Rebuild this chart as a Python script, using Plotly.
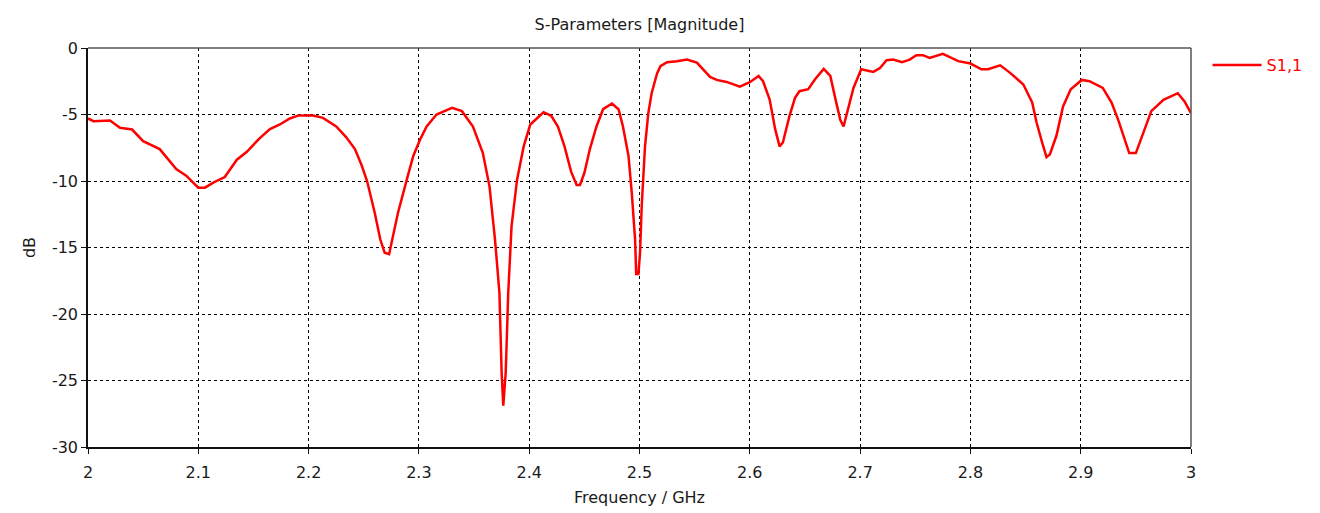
import plotly.graph_objects as go

freq_ghz = [
    2.000, 2.005, 2.020, 2.029, 2.040, 2.050, 2.065, 2.074, 2.080, 2.089,
    2.100, 2.106, 2.114, 2.124, 2.135, 2.144, 2.156, 2.165, 2.174, 2.183,
    2.191, 2.204, 2.213, 2.225, 2.234, 2.242, 2.248, 2.253, 2.260, 2.265,
    2.269, 2.273, 2.281, 2.290, 2.295, 2.301, 2.307, 2.316, 2.330, 2.339,
    2.349, 2.358, 2.364, 2.369, 2.373, 2.375, 2.3765, 2.3787, 2.381, 2.384,
    2.389, 2.395, 2.401, 2.413, 2.420, 2.426, 2.432, 2.438, 2.443, 2.446,
    2.450, 2.455, 2.461, 2.467, 2.475, 2.481, 2.485, 2.490, 2.493, 2.496,
    2.497, 2.499, 2.5005, 2.502, 2.505, 2.508, 2.511, 2.516, 2.519, 2.525,
    2.534, 2.543, 2.552, 2.564, 2.570, 2.579, 2.591, 2.600, 2.608, 2.612,
    2.618, 2.623, 2.627, 2.630, 2.636, 2.641, 2.645, 2.653, 2.659, 2.667,
    2.673, 2.677, 2.682, 2.685, 2.688, 2.694, 2.701, 2.706, 2.712, 2.718,
    2.724, 2.730, 2.738, 2.745, 2.751, 2.757, 2.763, 2.775, 2.789, 2.800,
    2.810, 2.816, 2.827, 2.836, 2.848, 2.856, 2.860, 2.865, 2.869, 2.872,
    2.878, 2.884, 2.891, 2.901, 2.908, 2.920, 2.928, 2.934, 2.940, 2.944,
    2.950, 2.957, 2.964, 2.975, 2.988, 2.994, 3.000,
]

s11_db = [
    -5.3, -5.5, -5.45, -6.0, -6.13, -7.0, -7.6, -8.5, -9.1, -9.6,
    -10.5, -10.5, -10.1, -9.7, -8.4, -7.8, -6.75, -6.1, -5.75, -5.3,
    -5.07, -5.07, -5.25, -5.9, -6.7, -7.6, -8.8, -10.0, -12.4, -14.4,
    -15.4, -15.5, -12.4, -9.6, -8.1, -6.9, -5.9, -5.0, -4.5, -4.75,
    -5.9, -7.9, -10.4, -14.4, -18.4, -24.4, -26.9, -24.4, -18.4, -13.4,
    -9.9, -7.4, -5.75, -4.83, -5.1, -5.9, -7.4, -9.3, -10.3, -10.3,
    -9.4, -7.6, -5.9, -4.6, -4.17, -4.6, -5.9, -8.1, -10.9, -14.4,
    -17.0, -17.0, -15.4, -11.9, -7.4, -4.9, -3.4, -1.9, -1.37, -1.07,
    -1.0, -0.87, -1.1, -2.17, -2.4, -2.55, -2.9, -2.57, -2.1, -2.5,
    -3.87, -6.1, -7.4, -7.1, -5.1, -3.75, -3.25, -3.1, -2.37, -1.57,
    -2.1, -3.6, -5.4, -5.9, -5.0, -3.0, -1.6, -1.67, -1.8, -1.5,
    -0.92, -0.87, -1.07, -0.87, -0.54, -0.54, -0.74, -0.44, -0.99, -1.17,
    -1.6, -1.6, -1.3, -1.87, -2.74, -4.1, -5.6, -7.1, -8.2, -8.0,
    -6.6, -4.4, -3.1, -2.4, -2.5, -3.0, -4.1, -5.4, -7.0, -7.9,
    -7.9, -6.4, -4.75, -3.9, -3.4, -4.0, -4.9,
]

x_ticks = [2, 2.1, 2.2, 2.3, 2.4, 2.5, 2.6, 2.7, 2.8, 2.9, 3]
x_tick_text = ["2", "2.1", "2.2", "2.3", "2.4", "2.5", "2.6", "2.7", "2.8", "2.9", "3"]
y_ticks = [0, -5, -10, -15, -20, -25, -30]
y_tick_text = ["0", "-5", "-10", "-15", "-20", "-25", "-30"]

font_main = "DejaVu Sans, sans-serif"
txt_color = "#1a1a1a"

fig = go.Figure()
fig.add_trace(go.Scatter(
    x=freq_ghz, y=s11_db, mode="lines", name="S1,1",
    line=dict(color="#ff0000", width=2.5),
))

fig.update_layout(
    width=1320, height=513,
    margin=dict(l=80, r=137, t=40, b=74),
    paper_bgcolor="white", plot_bgcolor="white",
    title=dict(text="S-Parameters [Magnitude]", x=(80 + 1183) / 2 / 1320, xanchor="center",
               y=1 - 16 / 513, yanchor="middle",
               font=dict(family=font_main, size=16, color=txt_color)),
    font=dict(family=font_main, size=16, color=txt_color),
    showlegend=True,
    legend=dict(x=1.015, xanchor="left", y=1.0, yanchor="top",
                font=dict(family=font_main, size=16, color="#ff0000"),
                bgcolor="rgba(0,0,0,0)", itemwidth=49),
    shapes=[
        dict(type="line", xref="paper", yref="paper", x0=0, x1=1, y0=1, y1=1,
             line=dict(color="#555", width=1.5)),
        dict(type="line", xref="paper", yref="paper", x0=1, x1=1, y0=0, y1=1,
             line=dict(color="#555", width=1.5)),
    ],
)

fig.update_xaxes(
    range=[2, 3], tickvals=x_ticks, ticktext=x_tick_text,
    showgrid=True, gridcolor="#000", gridwidth=1, griddash="3px,3px",
    showline=True, linecolor="#111", linewidth=1.5, mirror=False,
    ticks="outside", ticklen=5, tickcolor="#111",
    zeroline=False, ticklabelstandoff=5,
    title=dict(text="Frequency / GHz", standoff=11, font=dict(family=font_main, size=16)),
    tickfont=dict(family=font_main, size=16),
)
fig.update_yaxes(
    range=[-30, 0], tickvals=y_ticks, ticktext=y_tick_text,
    showgrid=True, gridcolor="#000", gridwidth=1, griddash="3px,3px",
    showline=True, linecolor="#111", linewidth=1.5, mirror=False,
    ticks="outside", ticklen=5, tickcolor="#111",
    zeroline=False,
    title=dict(text="dB", standoff=12, font=dict(family=font_main, size=16)),
    tickfont=dict(family=font_main, size=16),
)

fig.write_html("out.html")
